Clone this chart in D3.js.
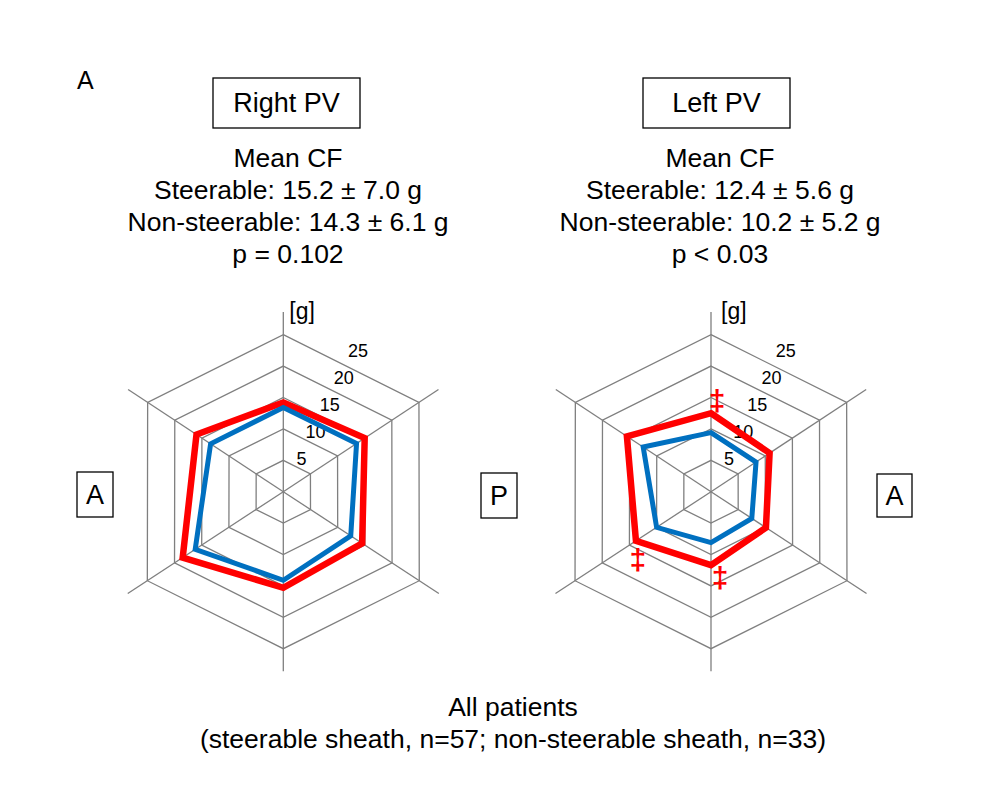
<!DOCTYPE html>
<html>
<head>
<meta charset="utf-8">
<script src="https://cdn.jsdelivr.net/npm/d3@7"></script>
<style>
  html, body { margin: 0; padding: 0; background: #fff; }
  svg { display: block; font-family: "Liberation Sans", Arial, sans-serif; }
</style>
</head>
<body>
<svg id="chart" width="1000" height="804"></svg>
<script>
// ---------------- data ----------------
const segments = ["Top", "Upper right", "Lower right", "Bottom", "Lower left", "Upper left"];
const ringTicks = [5, 10, 15, 20, 25];
const tickLabels = ["5", "10", "15", "20", "25"];
const seriesNames = ["Steerable", "Non-steerable"];

const rightPVSteerable    = [14.2, 15.0, 14.5, 15.3, 18.5, 16.0];
const rightPVNonSteerable = [13.4, 13.5, 12.4, 14.1, 16.2, 13.4];
const leftPVSteerable     = [12.5, 10.8, 10.1, 11.7, 13.8, 15.5];
const leftPVNonSteerable  = [9.4, 8.3, 7.5, 8.1, 10.0, 12.5];

// significance markers (segment index) on left PV steerable series
const leftPVSignificant = [0, 3, 4];

const rightPVText = ["Mean CF", "Steerable: 15.2 \u00b1 7.0 g", "Non-steerable: 14.3 \u00b1 6.1 g", "p = 0.102"];
const leftPVText  = ["Mean CF", "Steerable: 12.4 \u00b1 5.6 g", "Non-steerable: 10.2 \u00b1 5.2 g", "p < 0.03"];
const footerText = ["All patients", "(steerable sheath, n=57; non-steerable sheath, n=33)"];

// ---------------- layout ----------------
const svg = d3.select("#chart");
svg.append("rect").attr("width", 1000).attr("height", 804).attr("fill", "#fff");

const FONT = 26.5;
const r = d3.scaleLinear().domain([0, 25]).range([0, 157]);
const spokeMax = 28.6;
// axis direction vectors (clockwise from top), matching the drawing's geometry
const dirs = [[0, -1], [0.864, -0.569], [0.866, 0.567], [0, 1], [-0.866, 0.567], [-0.864, -0.569]];
const colors = { Steerable: "#ff0000", "Non-steerable": "#0070c0" };
const widths = { Steerable: 6.5, "Non-steerable": 5 };

function pt(cx, cy, i, v) {
  return [cx + dirs[i][0] * r(v), cy + dirs[i][1] * r(v)];
}

function box(x, y, w, h, label, size) {
  svg.append("rect").attr("x", x).attr("y", y).attr("width", w).attr("height", h)
    .attr("fill", "none").attr("stroke", "#000").attr("stroke-width", 1.3);
  svg.append("text").attr("x", x + w / 2).attr("y", y + h / 2)
    .attr("text-anchor", "middle").attr("dominant-baseline", "central")
    .attr("font-size", size).attr("fill", "#000").text(label);
}

function radar(cx, cy, data, gDx, sig) {
  const g = svg.append("g");
  const closed = d3.line().curve(d3.curveLinearClosed);
  // rings
  ringTicks.forEach(t => {
    g.append("path")
      .attr("d", closed(segments.map((s, i) => pt(cx, cy, i, t))))
      .attr("fill", "none").attr("stroke", "#7f7f7f").attr("stroke-width", 1.3);
  });
  // spokes
  segments.forEach((s, i) => {
    const p = pt(cx, cy, i, spokeMax);
    g.append("line").attr("x1", cx).attr("y1", cy).attr("x2", p[0]).attr("y2", p[1])
      .attr("stroke", "#7f7f7f").attr("stroke-width", 1.3);
  });
  // tick labels
  ringTicks.forEach((t, k) => {
    g.append("text")
      .attr("x", cx + r(t) * 0.45 + 4)
      .attr("y", cy - r(t) * 0.86 - 6)
      .attr("text-anchor", "middle").attr("dominant-baseline", "central")
      .attr("font-size", 18).attr("fill", "#000").text(tickLabels[k]);
  });
  // unit
  g.append("text").attr("x", cx + gDx).attr("y", cy - 173)
    .attr("font-size", 23).attr("fill", "#000").text("[g]");
  // series
  data.forEach((vals, si) => {
    const name = seriesNames[si];
    g.append("path")
      .attr("d", closed(vals.map((v, i) => pt(cx, cy, i, v))))
      .attr("fill", "none").attr("stroke", colors[name])
      .attr("stroke-width", widths[name]).attr("stroke-linejoin", "miter");
  });
  // significance markers
  const markerOffset = { 0: [6, -13], 3: [9, 12], 4: [2, 19] };
  (sig || []).forEach(i => {
    const p = pt(cx, cy, i, data[0][i]);
    g.append("text").attr("x", p[0] + markerOffset[i][0]).attr("y", p[1] + markerOffset[i][1])
      .attr("text-anchor", "middle").attr("dominant-baseline", "central")
      .attr("font-size", 30).attr("font-weight", "bold").attr("fill", "#ff0000").text("\u2021");
  });
}

// panel letter
svg.append("text").attr("x", 77).attr("y", 89).attr("font-size", 25).attr("fill", "#000").text("A");

// headers
box(213, 78, 147, 50, "Right PV", 27);
box(643, 78, 147, 50, "Left PV", 27);

function header(cx, lines) {
  lines.forEach((l, i) => {
    svg.append("text").attr("x", cx).attr("y", 167 + i * 32)
      .attr("text-anchor", "middle").attr("font-size", FONT).attr("fill", "#000")
      .text(l);
  });
}
header(288, rightPVText);
header(720, leftPVText);

// radars
radar(283.3, 491.7, [rightPVSteerable, rightPVNonSteerable], 6, null);
radar(711, 491.7, [leftPVSteerable, leftPVNonSteerable], 10, leftPVSignificant);

// side orientation boxes
box(77, 472, 36, 45, "A", 27);
box(481, 473, 36, 45, "P", 27);
box(877, 474, 35, 43, "A", 27);

// footer
footerText.forEach((l, i) => {
  svg.append("text").attr("x", 513).attr("y", 716 + i * 32)
    .attr("text-anchor", "middle").attr("font-size", FONT).attr("fill", "#000").text(l);
});
</script>
</body>
</html>
